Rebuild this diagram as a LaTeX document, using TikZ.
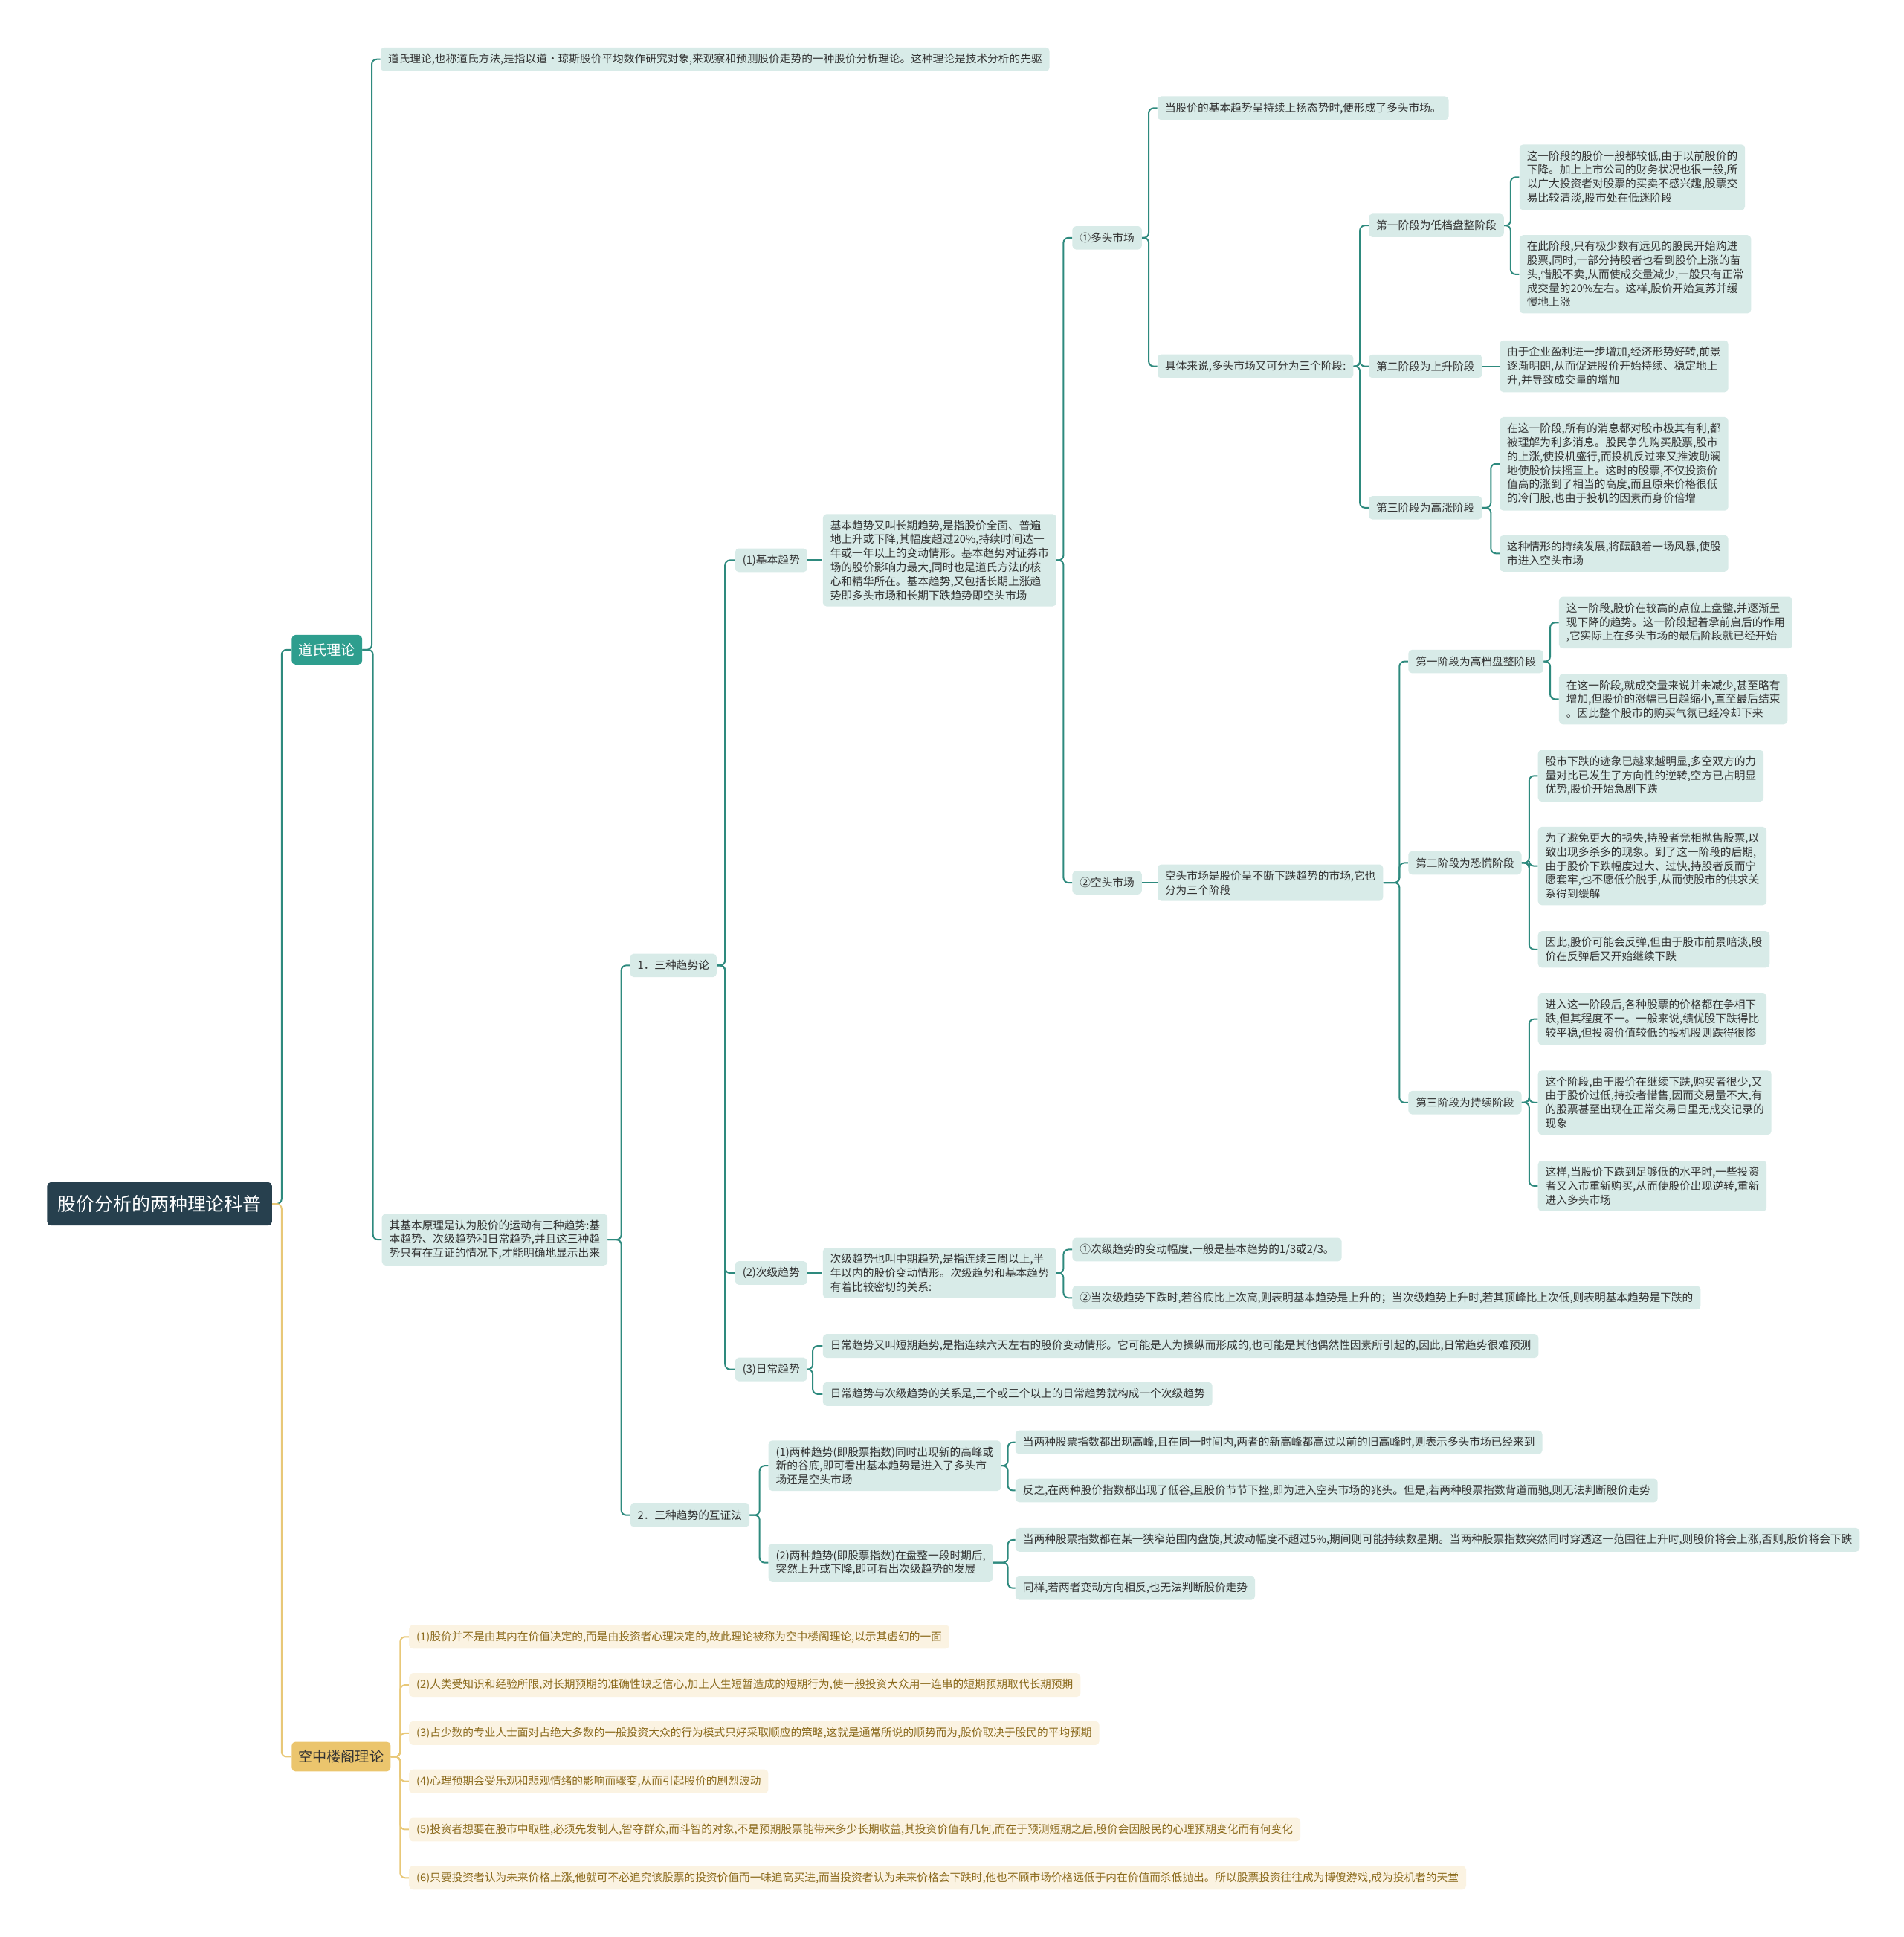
\documentclass[tikz,border=0pt]{standalone}
\usepackage{fontspec}
\setmainfont{Noto Sans CJK SC}
\usepackage{tikz}
\definecolor{rootc}{HTML}{27404E}
\definecolor{tealfill}{HTML}{2E9E8E}
\definecolor{tealline}{HTML}{2E8A7E}
\definecolor{tealsoft}{HTML}{D8EBE8}
\definecolor{ink}{HTML}{333333}
\definecolor{goldfill}{HTML}{EBC56D}
\definecolor{goldline}{HTML}{E8C878}
\definecolor{goldsoft}{HTML}{FBF3E2}
\definecolor{goldink}{HTML}{8B6A1C}

\begin{document}
\begin{tikzpicture}[x=1pt,y=-1pt,
  tline/.style={draw=tealline,line width=1.2pt,rounded corners=4pt},
  yline/.style={draw=goldline,line width=1.2pt,rounded corners=4pt},
  rootnode/.style={fill=rootc,text=white,rounded corners=3pt,anchor=west,
    font=\fontsize{15}{18}\selectfont,inner xsep=8.5pt,minimum height=35pt},
  tbranch/.style={fill=tealfill,text=white,rounded corners=3pt,anchor=west,
    font=\fontsize{11.5}{14}\selectfont,inner xsep=5.5pt,minimum height=24pt},
  ybranch/.style={fill=goldfill,text=ink,rounded corners=3pt,anchor=west,
    font=\fontsize{11.5}{14}\selectfont,inner xsep=5.5pt,minimum height=24pt},
  tnode/.style={fill=tealsoft,text=ink,rounded corners=3pt,anchor=west,align=left,
    font=\fontsize{8.85}{11.3}\selectfont,inner xsep=6pt,inner ysep=5pt,minimum height=19pt},
  ynode/.style={tnode,fill=goldsoft,text=goldink}]
\useasboundingbox (0,0) rectangle (1541,1568);
% 中心主题
\node[rootnode] (root) at (38,974.5) {股价分析的两种理论科普};
\node[tbranch] (dao) at (236,526) {道氏理论};
\node[ybranch] (kz) at (236,1422) {空中楼阁理论};
\draw[tline] (root.east) -- ([xshift=-8pt]dao.west |- root.east) |- (dao.west);
\draw[yline] (root.east) -- ([xshift=-8pt]kz.west |- root.east) |- (kz.west);
% 道氏理论
\node[tnode] (d1) at (308,48) {道氏理论,也称道氏方法,是指以道·琼斯股价平均数作研究对象,来观察和预测股价走势的一种股价分析理论。这种理论是技术分析的先驱};
\node[tnode] (d2) at (309,1003.5) {其基本原理是认为股价的运动有三种趋势:基\\本趋势、次级趋势和日常趋势,并且这三种趋\\势只有在互证的情况下,才能明确地显示出来};
\foreach \c in {d1,d2}
  \draw[tline] (dao.east) -- ([xshift=-7pt]\c.west |- dao.east) |- (\c.west);
\node[tnode] (t1) at (510,781.5) {1．三种趋势论};
\node[tnode] (t2) at (510,1226.5) {2．三种趋势的互证法};
\foreach \c in {t1,t2}
  \draw[tline] (d2.east) -- ([xshift=-7pt]\c.west |- d2.east) |- (\c.west);
% 三种趋势论
\node[tnode] (j1) at (595,453.5) {(1)基本趋势};
\node[tnode] (j2) at (595,1030.5) {(2)次级趋势};
\node[tnode] (j3) at (595,1108.5) {(3)日常趋势};
\foreach \c in {j1,j2,j3}
  \draw[tline] (t1.east) -- ([xshift=-8pt]\c.west |- t1.east) |- (\c.west);
\node[tnode] (jb) at (666,453.5) {基本趋势又叫长期趋势,是指股价全面、普遍\\地上升或下降,其幅度超过20\%,持续时间达一\\年或一年以上的变动情形。基本趋势对证券市\\场的股价影响力最大,同时也是道氏方法的核\\心和精华所在。基本趋势,又包括长期上涨趋\\势即多头市场和长期下跌趋势即空头市场};
\draw[tline] (j1) -- (jb);
\node[tnode] (db) at (868,192.5) {①多头市场};
\node[tnode] (kt) at (868,714.5) {②空头市场};
\foreach \c in {db,kt}
  \draw[tline] (jb.east) -- ([xshift=-7pt]\c.west |- jb.east) |- (\c.west);
% 多头市场
\node[tnode] (db1) at (937,87.5) {当股价的基本趋势呈持续上扬态势时,便形成了多头市场。};
\node[tnode] (db2) at (937,296.5) {具体来说,多头市场又可分为三个阶段:};
\foreach \c in {db1,db2}
  \draw[tline] (db.east) -- ([xshift=-7pt]\c.west |- db.east) |- (\c.west);
\node[tnode] (s1) at (1108,182.5) {第一阶段为低档盘整阶段};
\node[tnode] (s2) at (1108,296.5) {第二阶段为上升阶段};
\node[tnode] (s3) at (1108,411) {第三阶段为高涨阶段};
\foreach \c in {s1,s2,s3}
  \draw[tline] (db2.east) -- ([xshift=-7pt]\c.west |- db2.east) |- (\c.west);
\node[tnode] (s1a) at (1230,143.5) {这一阶段的股价一般都较低,由于以前股价的\\下降。加上上市公司的财务状况也很一般,所\\以广大投资者对股票的买卖不感兴趣,股票交\\易比较清淡,股市处在低迷阶段};
\node[tnode] (s1b) at (1230,222) {在此阶段,只有极少数有远见的股民开始购进\\股票,同时,一部分持股者也看到股价上涨的苗\\头,惜股不卖,从而使成交量减少,一般只有正常\\成交量的20\%左右。这样,股价开始复苏并缓\\慢地上涨};
\foreach \c in {s1a,s1b}
  \draw[tline] (s1.east) -- ([xshift=-7pt]\c.west |- s1.east) |- (\c.west);
\node[tnode] (s2a) at (1214,296.5) {由于企业盈利进一步增加,经济形势好转,前景\\逐渐明朗,从而促进股价开始持续、稳定地上\\升,并导致成交量的增加};
\draw[tline] (s2) -- (s2a);
\node[tnode] (s3a) at (1214,375.5) {在这一阶段,所有的消息都对股市极其有利,都\\被理解为利多消息。股民争先购买股票,股市\\的上涨,使投机盛行,而投机反过来又推波助澜\\地使股价扶摇直上。这时的股票,不仅投资价\\值高的涨到了相当的高度,而且原来价格很低\\的冷门股,也由于投机的因素而身价倍增};
\node[tnode] (s3b) at (1214,448) {这种情形的持续发展,将酝酿着一场风暴,使股\\市进入空头市场};
\foreach \c in {s3a,s3b}
  \draw[tline] (s3.east) -- ([xshift=-7pt]\c.west |- s3.east) |- (\c.west);
% 空头市场
\node[tnode] (ktx) at (937,714.5) {空头市场是股价呈不断下跌趋势的市场,它也\\分为三个阶段};
\draw[tline] (kt) -- (ktx);
\node[tnode] (k1) at (1140,535.5) {第一阶段为高档盘整阶段};
\node[tnode] (k2) at (1140,698.5) {第二阶段为恐慌阶段};
\node[tnode] (k3) at (1140,892.5) {第三阶段为持续阶段};
\foreach \c in {k1,k2,k3}
  \draw[tline] (ktx.east) -- ([xshift=-7pt]\c.west |- ktx.east) |- (\c.west);
\node[tnode] (k1a) at (1262,504) {这一阶段,股价在较高的点位上盘整,并逐渐呈\\现下降的趋势。这一阶段起着承前启后的作用\\,它实际上在多头市场的最后阶段就已经开始};
\node[tnode] (k1b) at (1262,566) {在这一阶段,就成交量来说并未减少,甚至略有\\增加,但股价的涨幅已日趋缩小,直至最后结束\\。因此整个股市的购买气氛已经冷却下来};
\foreach \c in {k1a,k1b}
  \draw[tline] (k1.east) -- ([xshift=-7pt]\c.west |- k1.east) |- (\c.west);
\node[tnode] (k2a) at (1245,628) {股市下跌的迹象已越来越明显,多空双方的力\\量对比已发生了方向性的逆转,空方已占明显\\优势,股价开始急剧下跌};
\node[tnode] (k2b) at (1245,701) {为了避免更大的损失,持股者竞相抛售股票,以\\致出现多杀多的现象。到了这一阶段的后期,\\由于股价下跌幅度过大、过快,持股者反而宁\\愿套牢,也不愿低价脱手,从而使股市的供求关\\系得到缓解};
\node[tnode] (k2c) at (1245,768.5) {因此,股价可能会反弹,但由于股市前景暗淡,股\\价在反弹后又开始继续下跌};
\foreach \c in {k2a,k2b,k2c}
  \draw[tline] (k2.east) -- ([xshift=-7pt]\c.west |- k2.east) |- (\c.west);
\node[tnode] (k3a) at (1245,825) {进入这一阶段后,各种股票的价格都在争相下\\跌,但其程度不一。一般来说,绩优股下跌得比\\较平稳,但投资价值较低的投机股则跌得很惨};
\node[tnode] (k3b) at (1245,892.5) {这个阶段,由于股价在继续下跌,购买者很少,又\\由于股价过低,持投者惜售,因而交易量不大,有\\的股票甚至出现在正常交易日里无成交记录的\\现象};
\node[tnode] (k3c) at (1245,960) {这样,当股价下跌到足够低的水平时,一些投资\\者又入市重新购买,从而使股价出现逆转,重新\\进入多头市场};
\foreach \c in {k3a,k3b,k3c}
  \draw[tline] (k3.east) -- ([xshift=-7pt]\c.west |- k3.east) |- (\c.west);
% 次级趋势
\node[tnode] (cj) at (666,1030.5) {次级趋势也叫中期趋势,是指连续三周以上,半\\年以内的股价变动情形。次级趋势和基本趋势\\有着比较密切的关系:};
\draw[tline] (j2) -- (cj);
\node[tnode] (cj1) at (868,1011.5) {①次级趋势的变动幅度,一般是基本趋势的1/3或2/3。};
\node[tnode] (cj2) at (868,1050.5) {②当次级趋势下跌时,若谷底比上次高,则表明基本趋势是上升的；当次级趋势上升时,若其顶峰比上次低,则表明基本趋势是下跌的};
\foreach \c in {cj1,cj2}
  \draw[tline] (cj.east) -- ([xshift=-7pt]\c.west |- cj.east) |- (\c.west);
% 日常趋势
\node[tnode] (rc1) at (666,1089.5) {日常趋势又叫短期趋势,是指连续六天左右的股价变动情形。它可能是人为操纵而形成的,也可能是其他偶然性因素所引起的,因此,日常趋势很难预测};
\node[tnode] (rc2) at (666,1128.5) {日常趋势与次级趋势的关系是,三个或三个以上的日常趋势就构成一个次级趋势};
\foreach \c in {rc1,rc2}
  \draw[tline] (j3.east) -- ([xshift=-8pt]\c.west |- j3.east) |- (\c.west);
% 互证法
\node[tnode] (hz1) at (622,1186.5) {(1)两种趋势(即股票指数)同时出现新的高峰或\\新的谷底,即可看出基本趋势是进入了多头市\\场还是空头市场};
\node[tnode] (hz2) at (622,1265) {(2)两种趋势(即股票指数)在盘整一段时期后,\\突然上升或下降,即可看出次级趋势的发展};
\foreach \c in {hz1,hz2}
  \draw[tline] (t2.east) -- ([xshift=-7pt]\c.west |- t2.east) |- (\c.west);
\node[tnode] (hz1a) at (822,1167.5) {当两种股票指数都出现高峰,且在同一时间内,两者的新高峰都高过以前的旧高峰时,则表示多头市场已经来到};
\node[tnode] (hz1b) at (822,1206.5) {反之,在两种股价指数都出现了低谷,且股价节节下挫,即为进入空头市场的兆头。但是,若两种股票指数背道而驰,则无法判断股价走势};
\foreach \c in {hz1a,hz1b}
  \draw[tline] (hz1.east) -- ([xshift=-6pt]\c.west |- hz1.east) |- (\c.west);
\node[tnode] (hz2a) at (822,1246.5) {当两种股票指数都在某一狭窄范围内盘旋,其波动幅度不超过5\%,期间则可能持续数星期。当两种股票指数突然同时穿透这一范围往上升时,则股价将会上涨,否则,股价将会下跌};
\node[tnode] (hz2b) at (822,1285.5) {同样,若两者变动方向相反,也无法判断股价走势};
\foreach \c in {hz2a,hz2b}
  \draw[tline] (hz2.east) -- ([xshift=-6pt]\c.west |- hz2.east) |- (\c.west);
% 空中楼阁理论
\foreach \i/\t in {
  1/{(1)股价并不是由其内在价值决定的,而是由投资者心理决定的,故此理论被称为空中楼阁理论,以示其虚幻的一面},
  2/{(2)人类受知识和经验所限,对长期预期的准确性缺乏信心,加上人生短暂造成的短期行为,使一般投资大众用一连串的短期预期取代长期预期},
  3/{(3)占少数的专业人士面对占绝大多数的一般投资大众的行为模式只好采取顺应的策略,这就是通常所说的顺势而为,股价取决于股民的平均预期},
  4/{(4)心理预期会受乐观和悲观情绪的影响而骤变,从而引起股价的剧烈波动},
  5/{(5)投资者想要在股市中取胜,必须先发制人,智夺群众,而斗智的对象,不是预期股票能带来多少长期收益,其投资价值有几何,而在于预测短期之后,股价会因股民的心理预期变化而有何变化},
  6/{(6)只要投资者认为未来价格上涨,他就可不必追究该股票的投资价值而一味追高买进,而当投资者认为未来价格会下跌时,他也不顾市场价格远低于内在价值而杀低抛出。所以股票投资往往成为博傻游戏,成为投机者的天堂}}
{
  \node[ynode] (kz\i) at (331,1286+39*\i) {\t};
  \draw[yline] (kz.east) -- ([xshift=-7pt]kz\i.west |- kz.east) |- (kz\i.west);
}
\end{tikzpicture}
\end{document}
